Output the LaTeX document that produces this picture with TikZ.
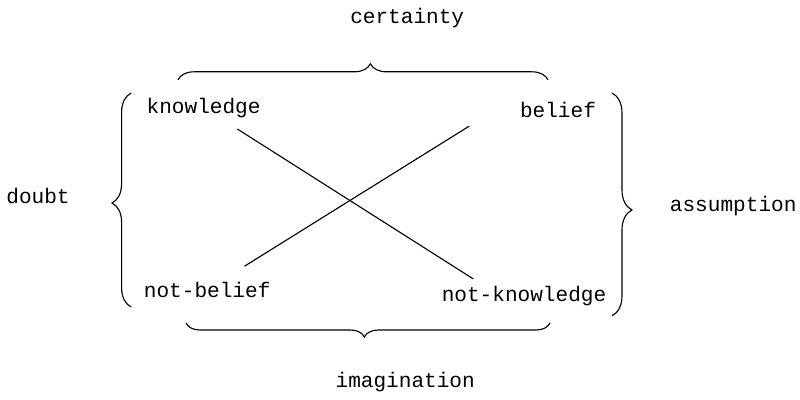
\documentclass[tikz,border=0pt]{standalone}
\usepackage{fontspec}
\setmonofont{Liberation Mono}
\usetikzlibrary{decorations.pathreplacing}

\begin{document}
\begin{tikzpicture}[x=1cm,y=1cm,font=\ttfamily\fontsize{15}{18}\selectfont,text=black,
  term/.style={inner sep=3.33pt},
  side/.style={inner sep=3.33pt},
  link/.style={draw=black,line width=.8pt},
  curly/.style={draw=black,line width=.8pt,decorate,decoration={brace,amplitude=#1}}]
\useasboundingbox (0,0) rectangle (20,9.975);
\fill[white] (0,0) rectangle (20,9.975);

% FOUR TERMS
\node[term,anchor=base] (knowledge) at (5.09,7.15) {knowledge};
\node[term,anchor=base] (belief) at (13.95,7.03) {belief};
\node[term,anchor=base] (notbelief) at (5.18,2.55) {not-belief};
\node[term,anchor=base] (notknowledge) at (13.1,2.43) {not-knowledge};

% CROSSING LINES
\draw[link,shorten <=1cm,shorten >=1.5cm] (knowledge.center)--(notknowledge.south);
\draw[link,shorten <=1.1cm,shorten >=1.35cm] (notbelief.center)--(belief.north west);

% BRACES AND THEIR NAMES
\draw[curly=.4cm,decoration={aspect=.52}] (4.45,7.98)--(13.7,7.98);
\draw[curly=.35cm,decoration={aspect=.51}] (13.75,1.9)--(4.65,1.9);
\draw[curly=.48cm,decoration={aspect=.486}] (3.28,2.3)--(3.28,7.65);
\draw[curly=.5cm,decoration={aspect=.525}] (15.3,7.65)--(15.3,2.08);
\node[side,anchor=base] (certainty) at (10.18,9.38) {certainty};
\node[side,anchor=base] (imagination) at (10.13,.28) {imagination};
\node[side,anchor=base] (doubt) at (.95,4.9) {doubt};
\node[side,anchor=base] (assumption) at (18.33,4.68) {assumption};
\end{tikzpicture}
\end{document}
